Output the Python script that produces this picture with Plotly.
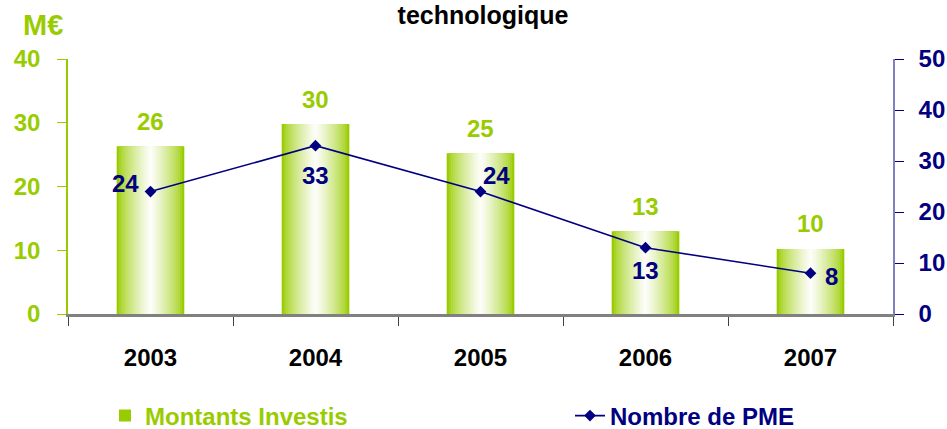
import plotly.graph_objects as go

years = ["2003", "2004", "2005", "2006", "2007"]
montants = [26.3, 29.8, 25.2, 13.0, 10.2]
montant_labels = ["26", "30", "25", "13", "10"]
nb_pme = [24, 33, 24, 13, 8]
pme_labels = ["24", "33", "24", "13", "8"]
left_ticks = [0, 10, 20, 30, 40]
right_ticks = [0, 10, 20, 30, 40, 50]

GREEN = "#99CC00"
NAVY = "#000080"
FONT = "Arial, Liberation Sans, sans-serif"

fig = go.Figure()

# gradient-like bars built from overlaid bars of decreasing width
n_layers = 16
full_w = 0.41
for i in range(n_layers):
    t = i / (n_layers - 1)
    w = full_w * (1 - t) + 0.02 * t
    g0 = (0x99, 0xCC, 0x00)
    c = tuple(int(g0[k] + (255 - g0[k]) * (t ** 0.7) * 0.98) for k in range(3))
    fig.add_trace(go.Bar(
        x=years, y=montants, width=w,
        marker=dict(color="rgb(%d,%d,%d)" % c, line=dict(width=0)),
        name="<b><span style='color:%s'>Montants Investis</span></b>" % GREEN,
        showlegend=(i == 0), legendgroup="m", hoverinfo="skip",
        yaxis="y", legend="legend",
    ))

fig.add_trace(go.Scatter(
    x=years, y=nb_pme, mode="lines+markers",
    line=dict(color=NAVY, width=1.6),
    marker=dict(symbol="diamond", size=9, color=NAVY),
    name="<b><span style='color:%s'>Nombre de PME</span></b>" % NAVY,
    yaxis="y2", legend="legend2",
))

annotations = []
for idx, (y, lab) in enumerate(zip(montants, montant_labels)):
    annotations.append(dict(x=idx, y=y, xref="x", yref="y", text="<b>%s</b>" % lab,
                            showarrow=False, yshift=25,
                            font=dict(family=FONT, size=24, color=GREEN)))

offsets = [(-25, 8), (0, -30), (16, 16), (0, -23), (21, -3)]
for idx, ((y, lab), (dx, dy)) in enumerate(zip(zip(nb_pme, pme_labels), offsets)):
    annotations.append(dict(x=idx, y=y, xref="x", yref="y2", text="<b>%s</b>" % lab,
                            showarrow=False, xshift=dx, yshift=dy,
                            font=dict(family=FONT, size=24, color=NAVY)))

annotations.append(dict(x=(43 - 68) / 825, y=(314 - 25) / 255, xref="paper", yref="paper",
                        xanchor="center", yanchor="middle",
                        text="<b>M€</b>", showarrow=False,
                        font=dict(family=FONT, size=29, color=GREEN)))

fig.update_layout(
    width=947, height=429,
    margin=dict(l=68, r=54, t=59, b=115),
    paper_bgcolor="white", plot_bgcolor="white",
    barmode="overlay",
    font=dict(family=FONT),
    title=dict(text="<b>technologique</b>", x=483 / 947, xanchor="center",
               y=1 - 15 / 429, yanchor="middle", yref="container",
               font=dict(family=FONT, size=25, color="black")),
    xaxis=dict(type="category", showgrid=False, showline=True, linecolor="#808080",
               linewidth=2.5, ticks="outside", tickson="boundaries", ticklen=9,
               tickcolor="#404040", ticklabelstandoff=20, automargin=False,
               tickfont=dict(family=FONT, size=24, color="black", weight="bold")),
    yaxis=dict(range=[0, 40], tickvals=left_ticks, showgrid=False,
               showline=True, linecolor=GREEN, linewidth=1.5, ticks="outside",
               ticklen=9, tickcolor=GREEN, zeroline=False, ticklabelstandoff=12,
               automargin=False,
               tickfont=dict(family=FONT, size=24, color=GREEN, weight="bold")),
    yaxis2=dict(range=[0, 50], tickvals=right_ticks, overlaying="y",
                side="right", showgrid=False, showline=True, linecolor="#8080C0",
                linewidth=1.5, ticks="outside", ticklen=9, tickcolor=NAVY,
                zeroline=False, ticklabelstandoff=10, automargin=False,
                tickfont=dict(family=FONT, size=24, color=NAVY, weight="bold")),
    yaxis3=dict(range=[0, 40], tickvals=left_ticks, overlaying="y", side="left",
                showgrid=False, showline=False, ticks="inside", ticklen=8,
                tickcolor=GREEN, showticklabels=False, zeroline=False, automargin=False),
    yaxis4=dict(range=[0, 50], tickvals=right_ticks, overlaying="y", side="right",
                showgrid=False, showline=False, ticks="inside", ticklen=8,
                tickcolor=NAVY, showticklabels=False, zeroline=False, automargin=False),
    legend=dict(orientation="h", x=105 / 947, xanchor="left", xref="container",
                y=1 - 416 / 429, yanchor="middle", yref="container",
                font=dict(family=FONT, size=24)),
    legend2=dict(orientation="h", x=570 / 947, xanchor="left", xref="container",
                 y=1 - 416 / 429, yanchor="middle", yref="container",
                 font=dict(family=FONT, size=24)),
    annotations=annotations,
)

fig.write_html("out.html", config={"displayModeBar": False},
               post_script="document.body.style.margin='0';")
